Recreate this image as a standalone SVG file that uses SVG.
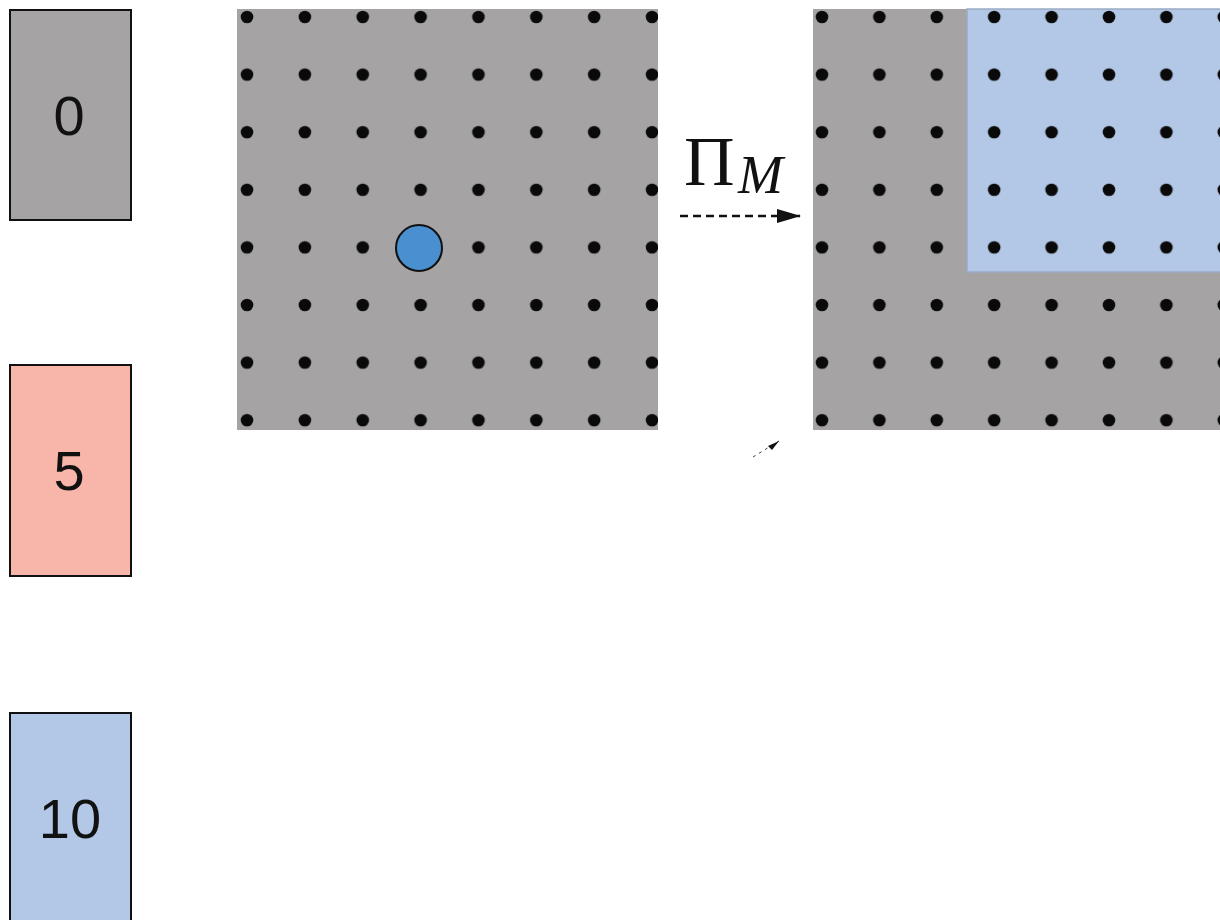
<svg xmlns="http://www.w3.org/2000/svg" width="1220" height="920" viewBox="0 0 1220 920">
  <style>
    .legend { stroke: #111; stroke-width: 2; }
    .num { font-family: "Liberation Sans", Arial, sans-serif; font-size: 56px; fill: #111; text-anchor: middle; }
    .grid { fill: #a5a3a4; }
    .dot { fill: #0a0a0a; }
    .math { font-family: "Liberation Serif", "Times New Roman", serif; fill: #111; }
  </style>
  <defs>
    <pattern id="dotsL" patternUnits="userSpaceOnUse" x="218.1" y="-11.8" width="57.86" height="57.6">
      <circle class="dot" cx="28.93" cy="28.8" r="6.3"/>
    </pattern>
    <pattern id="dotsR" patternUnits="userSpaceOnUse" x="793.3" y="-11.8" width="57.4" height="57.6">
      <circle class="dot" cx="28.7" cy="28.8" r="6.3"/>
    </pattern>
    <marker id="arrow" viewBox="0 0 24 18" refX="23" refY="9" markerWidth="24" markerHeight="18" markerUnits="userSpaceOnUse" orient="auto">
      <path d="M0,2 L24,9 L0,16 Z" fill="#111"/>
    </marker>
  </defs>

  <g id="legend-0">
    <rect class="legend" x="10" y="10" width="121" height="210" fill="#a5a3a4"/>
    <text class="num" x="69" y="135">0</text>
  </g>
  <g id="legend-5">
    <rect class="legend" x="10" y="365" width="121" height="211" fill="#f8b5a9"/>
    <text class="num" x="69" y="490">5</text>
  </g>
  <g id="legend-10">
    <rect class="legend" x="10" y="713" width="121" height="220" fill="#b3c8e6"/>
    <text class="num" x="70" y="838">10</text>
  </g>

  <g id="grid-left">
    <rect class="grid" x="237" y="9" width="421" height="421"/>
    <rect x="237" y="9" width="421" height="421" fill="url(#dotsL)"/>
    <circle cx="419" cy="248" r="23" fill="#4a8fd0" stroke="#111" stroke-width="2"/>
  </g>

  <g id="grid-right">
    <rect class="grid" x="813" y="9" width="420" height="421"/>
    <rect x="967" y="9" width="260" height="263" fill="#b3c8e6" stroke="#9aabc4" stroke-width="1.5"/>
    <rect x="813" y="9" width="420" height="421" fill="url(#dotsR)"/>
  </g>

  <g id="label-pi">
    <text class="math" x="684" y="185" font-size="70">Π</text>
    <text class="math" x="738" y="193" font-size="54" font-style="italic">M</text>
  </g>

  <g id="connectors">
    <line x1="680" y1="216" x2="800" y2="216" stroke="#111" stroke-width="2.3" stroke-dasharray="8,5" marker-end="url(#arrow)"/>
    <line x1="753" y1="457" x2="779" y2="441" stroke="#111" stroke-width="0.8" stroke-dasharray="3,4"/>
    <path d="M779,441 L768,446 L772,450 Z" fill="#111"/>
  </g>
</svg>
